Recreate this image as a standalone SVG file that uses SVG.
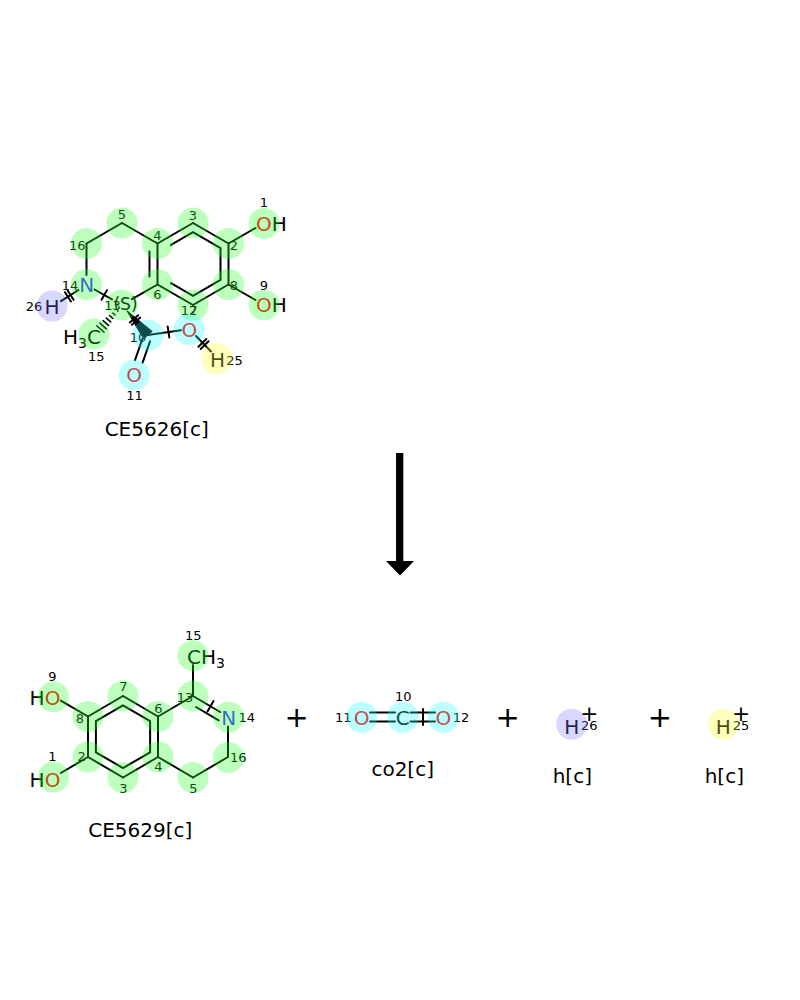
<svg xmlns="http://www.w3.org/2000/svg" width="800" height="1000" viewBox="0 0 800 1000">
<style>
text{font-family:"DejaVu Sans","Liberation Sans",sans-serif;fill:#000}
.a{font-size:20px;text-anchor:middle}
.m{font-size:13px;text-anchor:middle}
.t{font-size:20px;text-anchor:middle}
.O{fill:#ff0000}
.N{fill:#3333ff}
.b line,.b polyline,.b polygon{stroke:#000;stroke-width:2;fill:none;stroke-linecap:round}
.b polygon.w{fill:#000;stroke-width:1}
.hg{fill:#26ff26;fill-opacity:.3}
.hc{fill:#26ffff;fill-opacity:.3}
.hy{fill:#ffff26;fill-opacity:.3}
.hv{fill:#7a7aff;fill-opacity:.3}
</style>
<rect width="800" height="1000" fill="#fff"/>

<!-- ============ connectors ============ -->
<g id="connectors" class="b">
  <!-- reactant CE5626 bonds -->
  <g id="r-bonds">
    <line x1="157.5" y1="243.5" x2="193" y2="223"/>
    <line x1="193" y1="223" x2="228.5" y2="243.5"/>
    <line x1="228.5" y1="243.5" x2="228.5" y2="284.5"/>
    <line x1="228.5" y1="284.5" x2="193" y2="305"/>
    <line x1="193" y1="305" x2="157.5" y2="284.5"/>
    <line x1="157.5" y1="284.5" x2="157.5" y2="243.5"/>
    <polyline points="171,244.9 193,232.2 220.5,248.1 220.5,279.9 193,295.8 171,283.1"/>
    <line x1="149.5" y1="251.5" x2="149.5" y2="276.5"/>
    <line x1="122" y1="223" x2="157.5" y2="243.5"/>
    <line x1="86.5" y1="243.5" x2="122" y2="223"/>
    <line x1="86.5" y1="243.5" x2="86.5" y2="275"/>
    <line x1="228.5" y1="243.5" x2="255.5" y2="228"/>
    <line x1="228.5" y1="284.5" x2="255.5" y2="300"/>
    <line x1="94.5" y1="289.5" x2="112" y2="299.3"/>
    <line x1="132" y1="299.2" x2="157.5" y2="284.5"/>
    <line x1="78.5" y1="290" x2="61" y2="301.2"/>
    <line x1="148" y1="335" x2="181" y2="330.2"/>
    <line x1="196" y1="336" x2="211" y2="351.5"/>
    <line x1="142.5" y1="338.7" x2="135" y2="360.1"/>
    <line x1="150" y1="341.3" x2="142.6" y2="362.7"/>
    <polygon class="w" points="127.2,311 152.2,331.4 143.8,338.6"/>
    <!-- hashed wedge C13-C15 -->
    <line x1="112.8" y1="313" x2="115" y2="315" style="stroke-width:1.5"/>
    <line x1="109.6" y1="315.5" x2="112.8" y2="318.5" style="stroke-width:1.5"/>
    <line x1="106.3" y1="318.1" x2="110.7" y2="321.9" style="stroke-width:1.5"/>
    <line x1="103.1" y1="320.6" x2="108.5" y2="325.4" style="stroke-width:1.5"/>
    <line x1="99.9" y1="323.1" x2="106.3" y2="328.9" style="stroke-width:1.5"/>
    <line x1="96.7" y1="325.7" x2="104.1" y2="332.3" style="stroke-width:1.5"/>
    <!-- reaction-centre ticks -->
    <line x1="101.55" y1="299.8" x2="106.95" y2="290.2"/>
    <line x1="65" y1="292.2" x2="70.9" y2="301.5"/>
    <line x1="67.7" y1="290.5" x2="73.6" y2="299.8"/>
    <line x1="129.8" y1="322.4" x2="138.1" y2="315.2"/>
    <line x1="131.9" y1="324.8" x2="140.2" y2="317.6"/>
    <line x1="167.7" y1="326.6" x2="169.3" y2="337.4"/>
    <line x1="198.45" y1="346.7" x2="206.35" y2="339"/>
    <line x1="200.65" y1="349" x2="208.55" y2="341.3"/>
  </g>
  <!-- product CE5629 bonds -->
  <g id="p-bonds">
    <line x1="123" y1="696" x2="88" y2="716.5"/>
    <line x1="88" y1="716.5" x2="88" y2="757"/>
    <line x1="88" y1="757" x2="123" y2="777.5"/>
    <line x1="123" y1="777.5" x2="158" y2="757"/>
    <line x1="158" y1="757" x2="158" y2="716.5"/>
    <line x1="158" y1="716.5" x2="123" y2="696"/>
    <polygon points="123,705.4 95.9,721.1 95.9,752.4 123,768 150.1,752.4 150.1,721.1"/>
    <line x1="88" y1="716.5" x2="60.8" y2="700.6"/>
    <line x1="88" y1="757" x2="60.8" y2="773"/>
    <line x1="158" y1="716.5" x2="193" y2="696"/>
    <line x1="193" y1="696" x2="193" y2="665"/>
    <line x1="193" y1="696" x2="220.2" y2="712"/>
    <line x1="196" y1="707" x2="218.7" y2="720.3"/>
    <line x1="207.5" y1="711.4" x2="213.5" y2="701.1"/>
    <line x1="228" y1="726.5" x2="228" y2="757"/>
    <line x1="228" y1="757" x2="193" y2="777.5"/>
    <line x1="193" y1="777.5" x2="158" y2="757"/>
  </g>
  <!-- CO2 bonds -->
  <g id="co2-bonds">
    <line x1="370" y1="712.5" x2="395" y2="712.5"/>
    <line x1="370" y1="721.5" x2="395" y2="721.5"/>
    <line x1="410.5" y1="712.5" x2="435" y2="712.5"/>
    <line x1="410.5" y1="721.5" x2="435" y2="721.5"/>
    <line x1="423" y1="709" x2="423" y2="725"/>
  </g>
  <!-- reaction arrow -->
  <g id="arrow">
    <line x1="399.7" y1="453" x2="399.7" y2="562" style="stroke-width:7.3;stroke-linecap:butt"/>
    <polygon points="386,561 414,561 400,575.5" style="fill:#000;stroke:none"/>
  </g>
</g>

<!-- ============ reactant CE5626[c] ============ -->
<g id="CE5626">
  <g id="r-O1"><text x="256.1" y="231" style="font-size:20px"><tspan class="O">O</tspan>H</text><text class="m" x="264" y="207">1</text></g>
  <g id="r-C2"><text class="m" x="234" y="250">2</text></g>
  <g id="r-C3"><text class="m" x="193" y="219.5">3</text></g>
  <g id="r-C4"><text class="m" x="157.5" y="239.5">4</text></g>
  <g id="r-C5"><text class="m" x="122" y="219">5</text></g>
  <g id="r-C6"><text class="m" x="157.5" y="299">6</text></g>
  <g id="r-C7"><text class="m" x="193.5" y="314.5">7</text></g>
  <g id="r-C8"><text class="m" x="234" y="290">8</text></g>
  <g id="r-O9"><text x="256.1" y="312.3" style="font-size:20px"><tspan class="O">O</tspan>H</text><text class="m" x="264" y="289.5">9</text></g>
  <g id="r-C10"><text class="m" x="138" y="342.3">10</text></g>
  <g id="r-O11"><text class="a O" x="134" y="382.3">O</text><text class="m" x="134.5" y="399.5">11</text></g>
  <g id="r-O12"><text class="a O" x="189.3" y="337.3">O</text><text class="m" x="189" y="314.5">12</text></g>
  <g id="r-C13"><text class="m" x="112.5" y="309.5">13</text><text x="125.5" y="310" style="font-size:17px;text-anchor:middle">(S)</text></g>
  <g id="r-N14"><text class="a N" x="86.7" y="292.3">N</text><text class="m" x="70" y="290">14</text></g>
  <g id="r-C15"><text x="101" y="344" style="font-size:20px;text-anchor:end">H<tspan style="font-size:14px" dy="4">3</tspan><tspan dy="-4">C</tspan></text><text class="m" x="96.3" y="361">15</text></g>
  <g id="r-C16"><text class="m" x="77.3" y="249.5">16</text></g>
  <g id="r-H25"><text class="a" x="217.5" y="367.3">H</text><text class="m" x="234.5" y="364.5">25</text></g>
  <g id="r-H26"><text class="a" x="52" y="314">H</text><text class="m" x="34" y="311">26</text></g>
</g>
<text id="lbl-CE5626" class="t" x="156.7" y="435.7">CE5626[c]</text>

<!-- ============ product CE5629[c] ============ -->
<g id="CE5629">
  <g id="p-O1"><text x="60.4" y="786.5" style="font-size:20px;text-anchor:end">H<tspan class="O">O</tspan></text><text class="m" x="52.3" y="761">1</text></g>
  <g id="p-C2"><text class="m" x="81.7" y="761">2</text></g>
  <g id="p-C3"><text class="m" x="123.3" y="793">3</text></g>
  <g id="p-C4"><text class="m" x="158.3" y="771">4</text></g>
  <g id="p-C5"><text class="m" x="193.3" y="793">5</text></g>
  <g id="p-C6"><text class="m" x="158.3" y="713">6</text></g>
  <g id="p-C7"><text class="m" x="123.3" y="691">7</text></g>
  <g id="p-C8"><text class="m" x="80" y="723">8</text></g>
  <g id="p-O9"><text x="60.4" y="704.6" style="font-size:20px;text-anchor:end">H<tspan class="O">O</tspan></text><text class="m" x="52.3" y="681">9</text></g>
  <g id="p-C13"><text class="m" x="185" y="702">13</text></g>
  <g id="p-N14"><text class="a N" x="228.7" y="725">N</text><text class="m" x="246.7" y="722">14</text></g>
  <g id="p-C15"><text x="187" y="664" style="font-size:20px">CH<tspan style="font-size:14px" dy="4">3</tspan></text><text class="m" x="193.3" y="639.5">15</text></g>
  <g id="p-C16"><text class="m" x="238.3" y="762">16</text></g>
</g>
<text id="lbl-CE5629" class="t" x="140.3" y="837">CE5629[c]</text>

<!-- ============ CO2 ============ -->
<g id="co2">
  <g id="c-O11"><text class="a O" x="361.7" y="724.6">O</text><text class="m" x="343.3" y="722">11</text></g>
  <g id="c-C10"><text class="a" x="402.7" y="724.6">C</text><text class="m" x="403.3" y="701">10</text></g>
  <g id="c-O12"><text class="a O" x="443.3" y="724.6">O</text><text class="m" x="461" y="722">12</text></g>
</g>
<text id="lbl-co2" class="t" x="402.7" y="775.7">co2[c]</text>

<!-- ============ H+ (26) ============ -->
<g id="h26">
  <text class="a" x="571.7" y="733.5">H</text>
  <text x="589.3" y="721" style="font-size:22px;text-anchor:middle">+</text>
  <text class="m" x="589.3" y="730">26</text>
</g>
<text id="lbl-h26" class="t" x="572.3" y="783.4">h[c]</text>

<!-- ============ H+ (25) ============ -->
<g id="h25">
  <text class="a" x="723.3" y="733.5">H</text>
  <text x="741" y="721" style="font-size:22px;text-anchor:middle">+</text>
  <text class="m" x="741" y="730">25</text>
</g>
<text id="lbl-h25" class="t" x="724.3" y="783.4">h[c]</text>

<!-- reaction plus signs -->
<g id="plus">
  <text x="296.7" y="727" style="font-size:29px;text-anchor:middle">+</text>
  <text x="507.7" y="727" style="font-size:29px;text-anchor:middle">+</text>
  <text x="660" y="727" style="font-size:29px;text-anchor:middle">+</text>
</g>

<!-- ============ atom highlights (translucent overlay) ============ -->
<g id="highlights">
  <circle class="hg" cx="264" cy="223.5" r="15.5"/>
  <circle class="hg" cx="228.5" cy="243.5" r="15.5"/>
  <circle class="hg" cx="193" cy="223" r="15.5"/>
  <circle class="hg" cx="157.5" cy="243.5" r="15.5"/>
  <circle class="hg" cx="122" cy="223" r="15.5"/>
  <circle class="hg" cx="157.5" cy="284.5" r="15.5"/>
  <circle class="hg" cx="193" cy="305" r="15.5"/>
  <circle class="hg" cx="228.5" cy="284.5" r="15.5"/>
  <circle class="hg" cx="264" cy="305" r="15.5"/>
  <circle class="hg" cx="122" cy="305" r="15.5"/>
  <circle class="hg" cx="86.5" cy="284.5" r="15.5"/>
  <circle class="hg" cx="94" cy="334" r="15.5"/>
  <circle class="hg" cx="86.5" cy="243.5" r="15.5"/>
  <circle class="hc" cx="148" cy="335" r="15.5"/>
  <circle class="hc" cx="134" cy="375" r="15.5"/>
  <circle class="hc" cx="189" cy="329.5" r="15.5"/>
  <circle class="hy" cx="217" cy="358.5" r="15.5"/>
  <circle class="hv" cx="52" cy="306" r="15.5"/>

  <circle class="hg" cx="53.3" cy="777" r="15.5"/>
  <circle class="hg" cx="88" cy="757" r="15.5"/>
  <circle class="hg" cx="123" cy="777.5" r="15.5"/>
  <circle class="hg" cx="158" cy="757" r="15.5"/>
  <circle class="hg" cx="193" cy="777.5" r="15.5"/>
  <circle class="hg" cx="158" cy="716.5" r="15.5"/>
  <circle class="hg" cx="123" cy="696" r="15.5"/>
  <circle class="hg" cx="88" cy="716.5" r="15.5"/>
  <circle class="hg" cx="53.3" cy="696.7" r="15.5"/>
  <circle class="hg" cx="193" cy="696" r="15.5"/>
  <circle class="hg" cx="228.5" cy="717" r="15.5"/>
  <circle class="hg" cx="193" cy="655.7" r="15.5"/>
  <circle class="hg" cx="228.5" cy="757.5" r="15.5"/>

  <circle class="hc" cx="361.7" cy="717.3" r="15.5"/>
  <circle class="hc" cx="402.7" cy="717.3" r="15.5"/>
  <circle class="hc" cx="443.3" cy="717.3" r="15.5"/>
  <circle class="hv" cx="571.7" cy="724.3" r="15.5"/>
  <circle class="hy" cx="723.3" cy="724.3" r="15.5"/>
</g>
</svg>
